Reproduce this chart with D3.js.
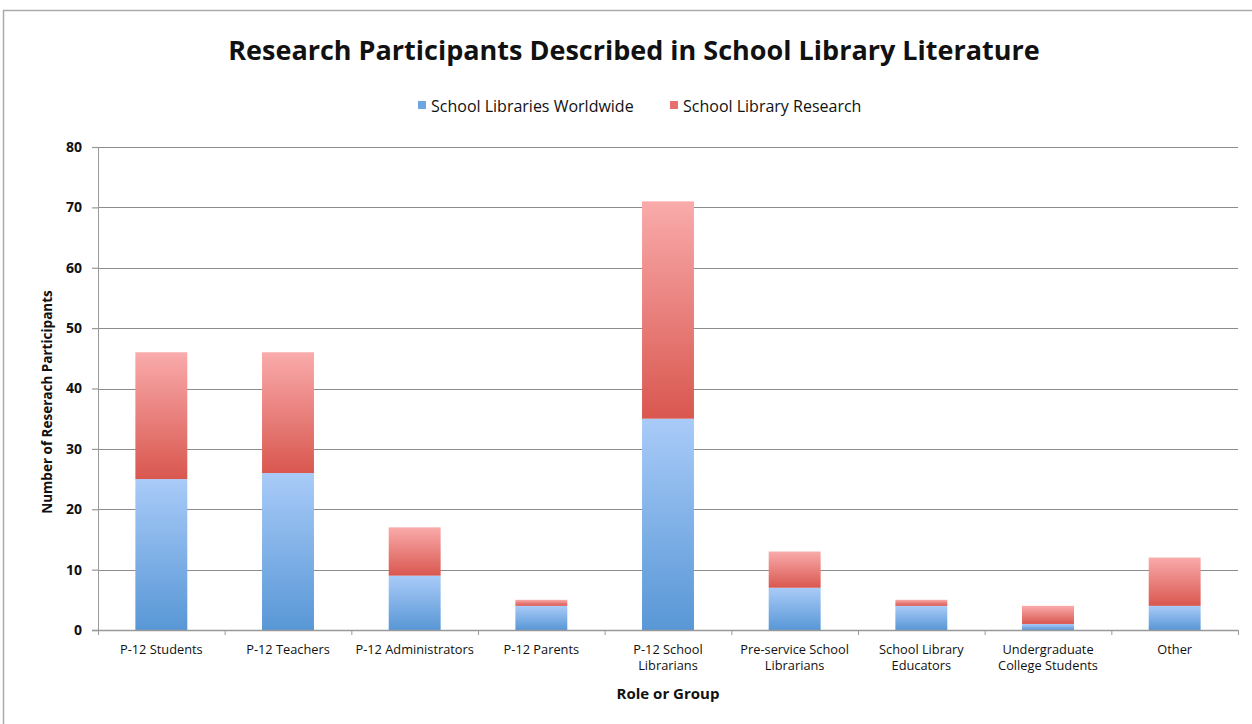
<!DOCTYPE html>
<html>
<head>
<meta charset="utf-8">
<script src="https://cdn.jsdelivr.net/npm/d3@7"></script>
<style>
  body { margin: 0; background: #fff; }
  text { font-family: "Open Sans", Lato, sans-serif; fill: #111; }
</style>
</head>
<body>
<script>
var categories = ["P-12 Students", "P-12 Teachers", "P-12 Administrators", "P-12 Parents",
                  "P-12 School|Librarians", "Pre-service School|Librarians", "School Library|Educators",
                  "Undergraduate|College Students", "Other"];
var worldwide = [25, 26, 9, 4, 35, 7, 4, 1, 4];
var research  = [21, 20, 8, 1, 36, 6, 1, 3, 8];
var seriesNames = ["School Libraries Worldwide", "School Library Research"];
var yTicks = [0, 10, 20, 30, 40, 50, 60, 70, 80];

var W = 1252, H = 724;
var margin = {top: 147, right: 14, bottom: 94, left: 98},
    width = W - margin.left - margin.right,
    height = H - margin.top - margin.bottom;

var svg = d3.select("body").append("svg")
    .attr("width", W)
    .attr("height", H);

// outer frame
svg.append("path")
    .attr("d", "M3.5," + H + "V10.5H" + W)
    .attr("fill", "none")
    .attr("stroke", "#aaa")
    .attr("stroke-width", 1.5);

var defs = svg.append("defs");
function grad(id, top, bottom) {
  var g = defs.append("linearGradient").attr("id", id)
      .attr("x1", 0).attr("y1", 0).attr("x2", 0).attr("y2", 1);
  g.append("stop").attr("offset", "0%").attr("stop-color", top);
  g.append("stop").attr("offset", "100%").attr("stop-color", bottom);
}
grad("gBlue", "#a9cbf8", "#5897d6");
grad("gRed", "#f9abab", "#d9574f");

var x = d3.scaleBand().domain(categories).range([0, width]).paddingInner(0.59).paddingOuter(0.295);
var y = d3.scaleLinear().domain([0, 80]).range([height, 0]);

var g = svg.append("g").attr("transform", "translate(" + margin.left + "," + margin.top + ")");

// gridlines
g.append("g").selectAll("line")
    .data(yTicks.slice(1))
  .enter().append("line")
    .attr("x1", 0).attr("x2", width)
    .attr("y1", function(d) { return Math.round(y(d)) + 0.5; })
    .attr("y2", function(d) { return Math.round(y(d)) + 0.5; })
    .attr("stroke", "#8c8c8c");

// y axis
var yAxis = g.append("g")
    .call(d3.axisLeft(y).tickValues(yTicks).tickSize(6).tickPadding(10));
yAxis.select(".domain").attr("stroke", "#999").attr("d", "M0.5," + height + "V0");
yAxis.selectAll(".tick line").attr("stroke", "#999").attr("stroke-width", 1.2);
yAxis.selectAll(".tick text").style("font-size", "14px").style("font-weight", "bold")
    .style("font-family", "'Open Sans', sans-serif").attr("fill", "#222");

// stacked bars
var stackData = categories.map(function(c, i) { return {cat: c, worldwide: worldwide[i], research: research[i]}; });
var stack = d3.stack().keys(["worldwide", "research"])(stackData);
var fills = ["url(#gBlue)", "url(#gRed)"];

g.selectAll(".series")
    .data(stack)
  .enter().append("g")
    .attr("class", "series")
    .attr("fill", function(d, i) { return fills[i]; })
  .selectAll("rect")
    .data(function(d) { return d; })
  .enter().append("rect")
    .attr("x", function(d) { return x(d.data.cat); })
    .attr("width", x.bandwidth())
    .attr("y", function(d) { return y(d[1]); })
    .attr("height", function(d) { return y(d[0]) - y(d[1]); });

// x axis
var xg = g.append("g").attr("transform", "translate(0," + height + ")");
xg.append("line").attr("x1", -6).attr("x2", width).attr("y1", 0.5).attr("y2", 0.5)
    .attr("stroke", "#999").attr("stroke-width", 1.5);
xg.selectAll(".xt")
    .data(d3.range(categories.length + 1))
  .enter().append("line")
    .attr("x1", function(i) { return i * width / categories.length + 0.5; })
    .attr("x2", function(i) { return i * width / categories.length + 0.5; })
    .attr("y1", 0).attr("y2", 5)
    .attr("stroke", "#999");

xg.selectAll(".xl")
    .data(categories)
  .enter().append("text")
    .attr("text-anchor", "middle")
    .attr("x", function(d) { return x(d) + x.bandwidth() / 2; })
    .attr("y", 24)
    .style("font-size", "12.8px")
    .each(function(d) {
      var t = d3.select(this);
      d.split("|").forEach(function(s, k) {
        t.append("tspan").attr("x", x(d) + x.bandwidth() / 2).attr("dy", k ? 16 : 0).text(s);
      });
    });

// titles
svg.append("text").attr("x", 634).attr("y", 60).attr("text-anchor", "middle")
    .style("font-size", "27px").style("font-weight", "bold")
    .text("Research Participants Described in School Library Literature");

svg.append("text").attr("x", 668).attr("y", 699).attr("text-anchor", "middle")
    .style("font-size", "15px").style("font-weight", "bold")
    .text("Role or Group");

svg.append("text")
    .attr("transform", "translate(52,402) rotate(-90)")
    .attr("text-anchor", "middle")
    .style("font-size", "13.5px").style("font-weight", "bold")
    .text("Number of Reserach Participants");

// legend
var legendX = [418, 670];
var lg = svg.selectAll(".legend")
    .data(seriesNames)
  .enter().append("g")
    .attr("transform", function(d, i) { return "translate(" + legendX[i] + ",101)"; });
lg.append("rect").attr("width", 8).attr("height", 8)
    .attr("fill", function(d, i) { return i ? "#e7706c" : "#6fa6e2"; });
lg.append("text").attr("x", 13).attr("y", 11).style("font-size", "16px")
    .text(function(d) { return d; });
</script>
</body>
</html>
